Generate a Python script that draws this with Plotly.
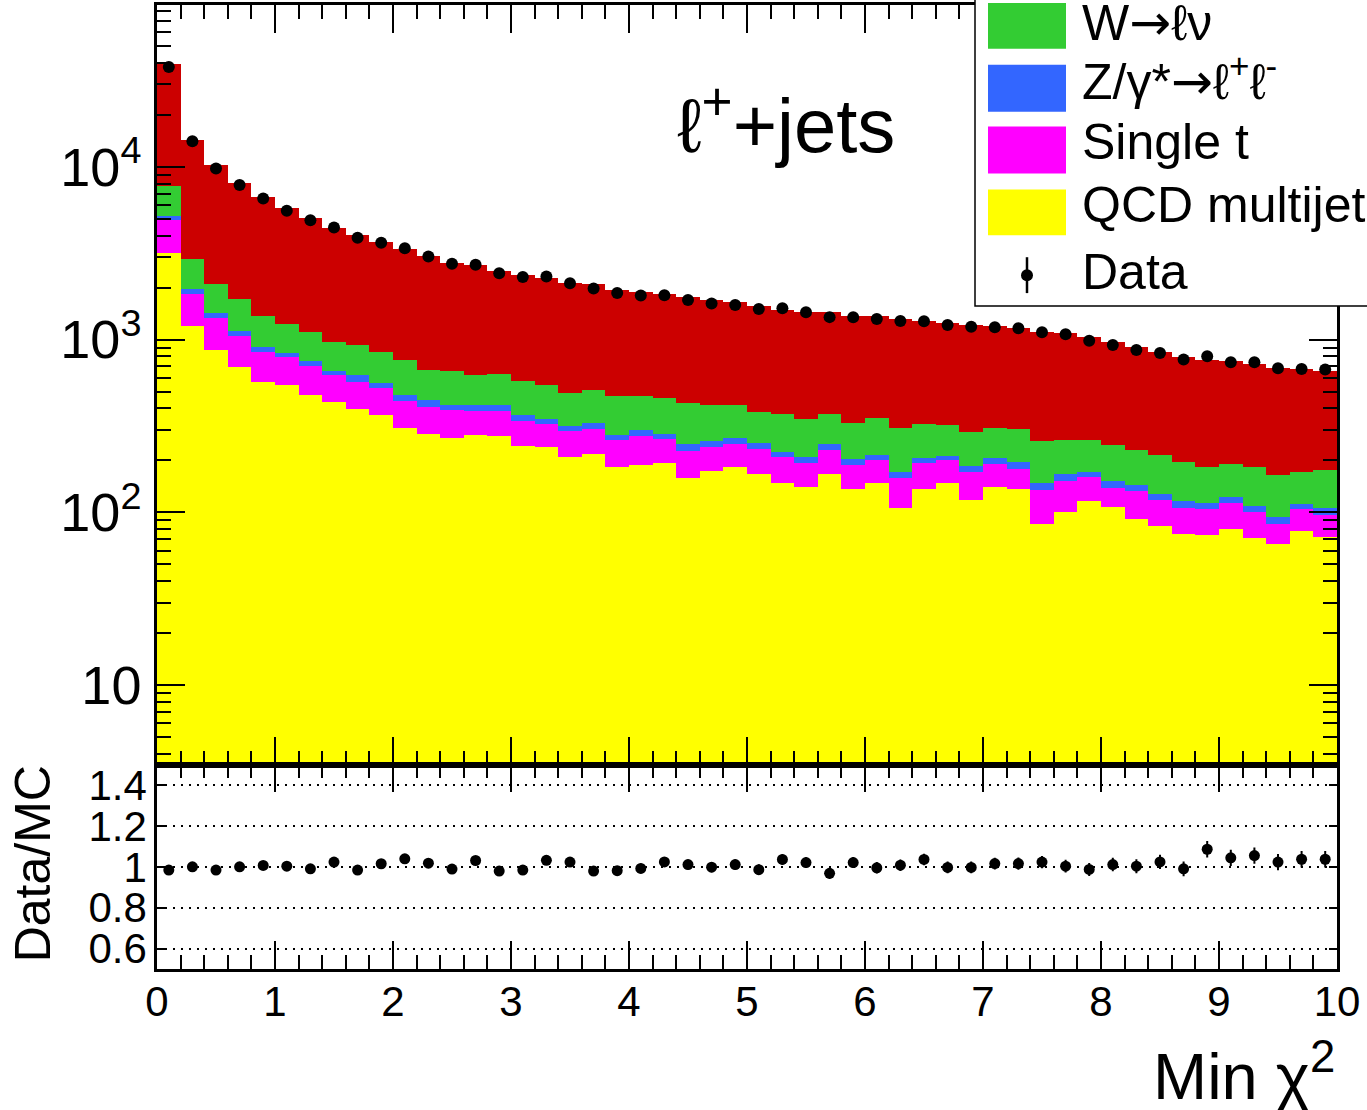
import plotly.graph_objects as go

# ---------------- data ----------------
bin_lo = 0.0
bin_w = 0.2
n_bins = 50
centers = [round(bin_lo + bin_w * (i + 0.5), 3) for i in range(n_bins)]

qcd = [3150, 1195, 867, 692, 572, 545, 479, 435, 398, 366,
       307, 285, 270, 279, 277, 242, 239, 208, 218, 183,
       188, 193, 158, 173, 182, 166, 148, 141, 167, 136,
       148, 106, 137, 148, 118, 140, 136, 86, 101, 117,
       107, 91, 83, 75, 74, 80, 71, 66, 78, 72]
single_t = [1750, 645, 461, 358, 274, 246, 223, 185, 174, 160,
            134, 121, 121, 106, 108, 96, 85, 87, 86, 81,
            89, 74, 69, 66, 68, 67, 62, 51, 64, 52,
            53, 52, 55, 52, 53, 51, 42, 49, 51, 43,
            32, 42, 35, 31, 30, 34, 30, 20, 26, 25]
zjets = [310, 110, 92, 68, 58, 50, 45, 36, 48, 36,
         37, 39, 29, 31, 33, 28, 24, 21, 25, 18,
         21, 18, 21, 20, 20, 19, 14, 16, 18, 15,
         15, 13, 15, 12, 15, 16, 17, 13, 14, 11,
         13, 11, 9, 11, 10, 8, 8, 8, 8, 9]
wjets = [2530, 980, 685, 592, 458, 395, 365, 317, 315, 287,
         279, 226, 242, 212, 213, 208, 197, 174, 179, 189,
         171, 173, 181, 162, 146, 128, 148, 139, 122, 126,
         134, 136, 117, 107, 107, 100, 109, 111, 96, 91,
         94, 85, 87, 79, 69, 69, 73, 70, 59, 71]
ttbar = [31560, 11450, 8125, 6340, 5318, 4564, 3928, 3477, 3105, 2841,
         2573, 2379, 2128, 2072, 1869, 1796, 1735, 1650, 1587, 1474,
         1425, 1367, 1325, 1281, 1225, 1176, 1118, 1105, 1068, 1046,
         1011, 1008, 964, 931, 921, 890, 868, 853, 825, 769,
         718, 675, 632, 595, 579, 559, 541, 518, 505, 485]
data = [37800, 14070, 9780, 7840, 6560, 5570, 4900, 4450, 3880, 3640,
        3380, 3030, 2750, 2710, 2420, 2300, 2320, 2120, 1977, 1860,
        1802, 1808, 1694, 1618, 1585, 1503, 1517, 1439, 1349, 1345,
        1315, 1280, 1276, 1214, 1188, 1178, 1162, 1102, 1074, 986,
        931, 871, 837, 768, 802, 740, 740, 682, 676, 671]
ratio = [0.984, 1.000, 0.984, 1.000, 1.007, 1.003, 0.990, 1.023, 0.984, 1.015,
         1.039, 1.018, 0.989, 1.031, 0.979, 0.984, 1.032, 1.023, 0.979, 0.981,
         0.992, 1.024, 1.011, 0.998, 1.011, 0.986, 1.036, 1.021, 0.968, 1.021,
         0.995, 1.008, 1.036, 0.997, 0.997, 1.016, 1.016, 1.023, 1.003, 0.987,
         1.011, 1.003, 1.024, 0.990, 1.086, 1.044, 1.055, 1.023, 1.037, 1.037]
ratio_err = [0.005, 0.009, 0.010, 0.011, 0.012, 0.013, 0.014, 0.015, 0.016, 0.017,
             0.017, 0.018, 0.019, 0.019, 0.020, 0.021, 0.021, 0.022, 0.022, 0.023,
             0.024, 0.024, 0.024, 0.025, 0.025, 0.026, 0.026, 0.026, 0.027, 0.027,
             0.028, 0.028, 0.028, 0.029, 0.029, 0.029, 0.030, 0.030, 0.031, 0.032,
             0.033, 0.034, 0.035, 0.036, 0.040, 0.040, 0.040, 0.040, 0.040, 0.040]

y_tickvals = [10, 100, 1000, 10000]
y_ticktext = ["10", "10<sup>2</sup>", "10<sup>3</sup>", "10<sup>4</sup>"]
r_tickvals = [0.6, 0.8, 1.0, 1.2, 1.4]
r_ticktext = ["0.6", "0.8", "1", "1.2", "1.4"]

ARROW = '<span style="font-family:DejaVu Sans">\u2192</span>'
legend_labels = ["W" + ARROW + "\u2113\u03bd",
                 "Z/\u03b3*" + ARROW + "\u2113<sup>+</sup>\u2113<sup>-</sup>",
                 "Single t", "QCD multijet"]
legend_colors = ["#33cc33", "#3366ff", "#ff00ff", "#ffff00"]

# ---------------- styles ----------------
RED, GREEN, BLUE, MAGENTA, YELLOW = "#cc0000", "#33cc33", "#3366ff", "#ff00ff", "#ffff00"
FONT = "Liberation Sans, Arial, Helvetica, sans-serif"

W, H = 1367, 1110
ML, MR, MT, MB = 157, 30, 2, 141
PW = W - ML - MR
PH = H - MT - MB
split = (969 - 764) / PH


def px_x(px):
    return (px - ML) / PW


def px_y(py):
    return (H - MB - py) / PH


fig = go.Figure()

stack = [(qcd, YELLOW, "QCD multijet"), (single_t, MAGENTA, "Single t"),
         (zjets, BLUE, "Z/γ*→ℓℓ"), (wjets, GREEN, "W→ℓν"), (ttbar, RED, "ttbar")]
for vals, col, name in stack:
    fig.add_trace(go.Bar(x=centers, y=vals, width=bin_w, name=name,
                         marker=dict(color=col, line=dict(width=0)),
                         xaxis="x", yaxis="y", showlegend=False))

fig.add_trace(go.Scatter(x=centers, y=data, mode="markers", name="Data",
                         marker=dict(color="black", size=12),
                         xaxis="x", yaxis="y", showlegend=False))

fig.add_trace(go.Scatter(x=centers, y=ratio, mode="markers", name="Data/MC",
                         marker=dict(color="black", size=11),
                         error_y=dict(type="data", array=ratio_err, width=0,
                                      thickness=2, color="black"),
                         xaxis="x2", yaxis="y2", showlegend=False))

minor_y = []
for dec in [1, 10, 100, 1000, 10000]:
    for k in range(2, 10):
        minor_y.append(k * dec)

tick_font_big = dict(family=FONT, size=54, color="black")
tick_font = dict(family=FONT, size=42, color="black")

common_x = dict(range=[0, 10], dtick=1, ticks="inside", ticklen=28, tickwidth=1.7,
                tickcolor="black", showline=True, linecolor="black", linewidth=2.5,
                mirror="ticks", showgrid=False, zeroline=False,
                minor=dict(ticks="inside", ticklen=14, dtick=0.2, tickwidth=1.7,
                           tickcolor="black", showgrid=False))

fig.update_layout(
    width=W, height=H,
    margin=dict(l=ML, r=MR, t=MT, b=MB),
    paper_bgcolor="white", plot_bgcolor="white",
    barmode="stack", bargap=0,
    font=dict(family=FONT, color="black"),
    xaxis=dict(anchor="y", domain=[0, 1], showticklabels=False, **common_x),
    yaxis=dict(anchor="x", domain=[split, 1], type="log", range=[0.540, 4.9365],
               tickmode="array", tickvals=y_tickvals, ticktext=y_ticktext,
               ticks="inside", ticklen=28, tickwidth=1.7, tickcolor="black",
               showline=True, linecolor="black", linewidth=2.5, mirror="ticks",
               showgrid=False, zeroline=False, tickfont=tick_font_big,
               ticklabelstandoff=2,
               minor=dict(ticks="inside", ticklen=14, tickwidth=1.7, tickcolor="black",
                          tickmode="array", tickvals=minor_y, showgrid=False)),
    xaxis2=dict(anchor="y2", domain=[0, 1], matches="x", showticklabels=True,
                tickfont=tick_font, ticklabelstandoff=-6, **common_x),
    yaxis2=dict(anchor="x2", domain=[0, split], range=[0.5, 1.5],
                tickmode="array", tickvals=r_tickvals, ticktext=r_ticktext,
                ticks="inside", ticklen=8, tickwidth=1.7, tickcolor="black",
                showline=True, linecolor="black", linewidth=2.5, mirror="ticks",
                showgrid=True, gridcolor="black", gridwidth=1.5, griddash="2px,6px",
                zeroline=False, tickfont=tick_font, ticklabelstandoff=-1),
)

annotations = []
# process label
annotations.append(dict(text="\u2113<sup>+</sup>+jets", x=px_x(786), y=px_y(117),
                        xref="paper", yref="paper", xanchor="center", yanchor="middle",
                        showarrow=False, font=dict(family=FONT, size=76, color="black")))
# axis titles
annotations.append(dict(text="Min \u03c7<sup>2</sup>", x=px_x(1337), y=px_y(1072),
                        xref="paper", yref="paper", xanchor="right", yanchor="middle",
                        showarrow=False, font=dict(family=FONT, size=65, color="black")))
annotations.append(dict(text="Data/MC", x=px_x(33), y=px_y(864), textangle=-90,
                        xref="paper", yref="paper", xanchor="center", yanchor="middle",
                        showarrow=False, font=dict(family=FONT, size=50, color="black")))

shapes = []
# legend box (partially outside the canvas, as in the reference)
shapes.append(dict(type="rect", xref="paper", yref="paper",
                   x0=px_x(975), x1=px_x(1420), y0=px_y(304), y1=px_y(-30),
                   fillcolor="white", line=dict(color="black", width=1.5), layer="above"))
sw_y = [(0, 46), (62, 109), (124, 171), (187, 233)]
txt_y = [20, 76, 139, 203]
for (y0, y1), col, lab, ty in zip(sw_y, legend_colors, legend_labels, txt_y):
    shapes.append(dict(type="rect", xref="paper", yref="paper",
                       x0=px_x(988), x1=px_x(1066), y0=px_y(y1), y1=px_y(y0),
                       fillcolor=col, line=dict(color=col, width=0), layer="above"))
    annotations.append(dict(text=lab, x=px_x(1080), y=px_y(ty), xref="paper", yref="paper",
                            xanchor="left", yanchor="middle", showarrow=False,
                            font=dict(family=FONT, size=50, color="black")))
# data legend entry
shapes.append(dict(type="line", xref="paper", yref="paper",
                   x0=px_x(1027), x1=px_x(1027), y0=px_y(291), y1=px_y(255),
                   line=dict(color="black", width=2.5), layer="above"))
shapes.append(dict(type="circle", xref="paper", yref="paper",
                   x0=px_x(1021), x1=px_x(1033), y0=px_y(279), y1=px_y(267),
                   fillcolor="black", line=dict(color="black", width=0), layer="above"))
annotations.append(dict(text="Data", x=px_x(1080), y=px_y(270), xref="paper", yref="paper",
                        xanchor="left", yanchor="middle", showarrow=False,
                        font=dict(family=FONT, size=50, color="black")))

fig.update_layout(annotations=annotations, shapes=shapes)

fig.write_html("out.html", config={"displayModeBar": False},
               post_script="document.body.style.margin='0px';document.body.style.padding='0px';")
